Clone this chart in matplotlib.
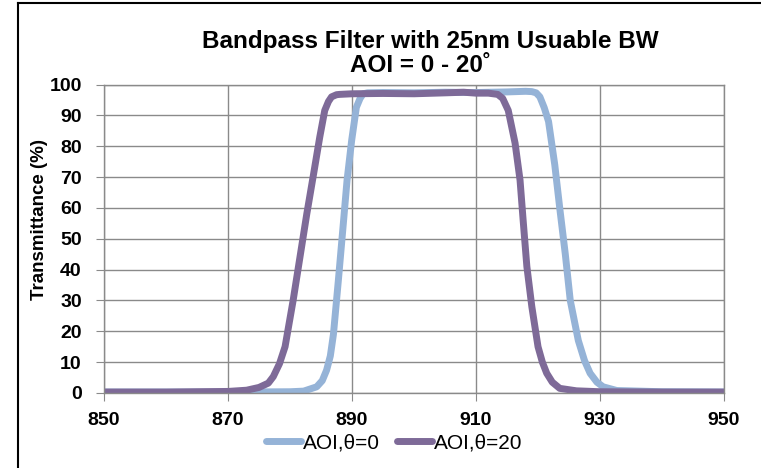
import matplotlib.pyplot as plt
from matplotlib.lines import Line2D

plt.rcParams['font.family'] = ['Liberation Sans', 'DejaVu Sans']

# AOI = 0 deg
wl0 = [850, 870, 880, 882.2, 884.3, 885.2, 885.9, 886.5, 887, 887.8, 888.6, 889.2, 889.95,
       890.7, 891.3, 891.8, 892.5, 895, 900, 905, 910, 915, 918, 919, 919.7, 920.3, 921,
       921.7, 922.7, 923.5, 924.4, 925.2, 926.5, 927.5, 928.4, 929.5, 930.5, 932.7, 940, 950]
t0 = [0.3, 0.3, 0.4, 0.6, 2, 4, 7.4, 12, 19, 36.6, 55, 69, 82,
      92.6, 95.5, 97, 97.3, 97.4, 97.3, 97.5, 97.4, 97.6, 97.8, 97.7, 97.3, 96, 92.5,
      88, 74, 60, 45, 30, 17, 10.5, 6.4, 3.5, 2, 0.8, 0.4, 0.3]

# AOI = 20 deg
wl20 = [850, 860, 870, 873, 875, 876.5, 877.3, 878.3, 879.2, 880.5, 881.6, 882.7, 883.8,
        884.8, 885.6, 886.2, 886.7, 887.5, 888, 890, 895, 900, 905, 908, 910, 912, 913.5,
        914.3, 915.2, 916.3, 917.1, 917.6, 918.2, 919.0, 920.0, 920.7, 921.4, 922.3, 923.5,
        926.2, 930, 940, 950]
t20 = [0.3, 0.3, 0.5, 0.9, 1.8, 3.2, 5.3, 9.5, 15, 30, 44, 58, 71,
       83, 91.6, 94.5, 96, 96.7, 96.8, 97, 97.1, 97.0, 97.3, 97.5, 97.2, 97.2, 96.8,
       95.5, 91.6, 81, 69, 56, 41, 28, 15, 10, 6.4, 3.5, 1.5,
       0.7, 0.4, 0.3, 0.3]

xticks = [850, 870, 890, 910, 930, 950]
yticks = list(range(0, 101, 10))

fig = plt.figure(figsize=(7.61, 4.68), dpi=100)
ax = fig.add_axes([0.1367, 0.1603, 0.8147, 0.6591])

ax.plot(wl0, t0, color='#95b3d7', lw=5, solid_capstyle='round', solid_joinstyle='round',
        label='AOI,θ=0')
ax.plot(wl20, t20, color='#7e6a98', lw=5, solid_capstyle='round', solid_joinstyle='round',
        label='AOI,θ=20')

ax.set_xlim(850, 950)
ax.set_ylim(0, 100)
ax.set_xticks(xticks)
ax.set_yticks(yticks)
ax.grid(True, color='#8a8a8a', lw=1)
for s in ax.spines.values():
    s.set_color('#8a8a8a')
    s.set_linewidth(1)
ax.tick_params(direction='out', length=6, color='#8a8a8a', labelsize=14)
ax.tick_params(axis='x', pad=8)
ax.tick_params(axis='y', pad=10)
for lb in ax.get_xticklabels() + ax.get_yticklabels():
    lb.set_fontweight('bold')

ax.set_ylabel('Transmittance (%)', fontsize=13.5, fontweight='bold')
ax.yaxis.set_label_coords(-0.090, 0.563)

fig.text(0.565, 0.911, 'Bandpass Filter with 25nm Usuable BW', ha='center', va='center',
         fontsize=17.5, fontweight='bold')
fig.text(0.552, 0.860, 'AOI = 0 - 20˚', ha='center', va='center',
         fontsize=17.5, fontweight='bold')

fig.legend(loc='center', bbox_to_anchor=(0.518, 0.053), ncol=2, frameon=False,
           fontsize=15, handlelength=1.7, handletextpad=0.1, columnspacing=0.8)

# chart frame (partly cut off in the original)
fig.add_artist(Line2D([0.024, 0.024], [0, 0.994], color='black', lw=1.5))
fig.add_artist(Line2D([0.024, 1], [0.994, 0.994], color='black', lw=1.5))

fig.savefig('out.png', dpi=100)
